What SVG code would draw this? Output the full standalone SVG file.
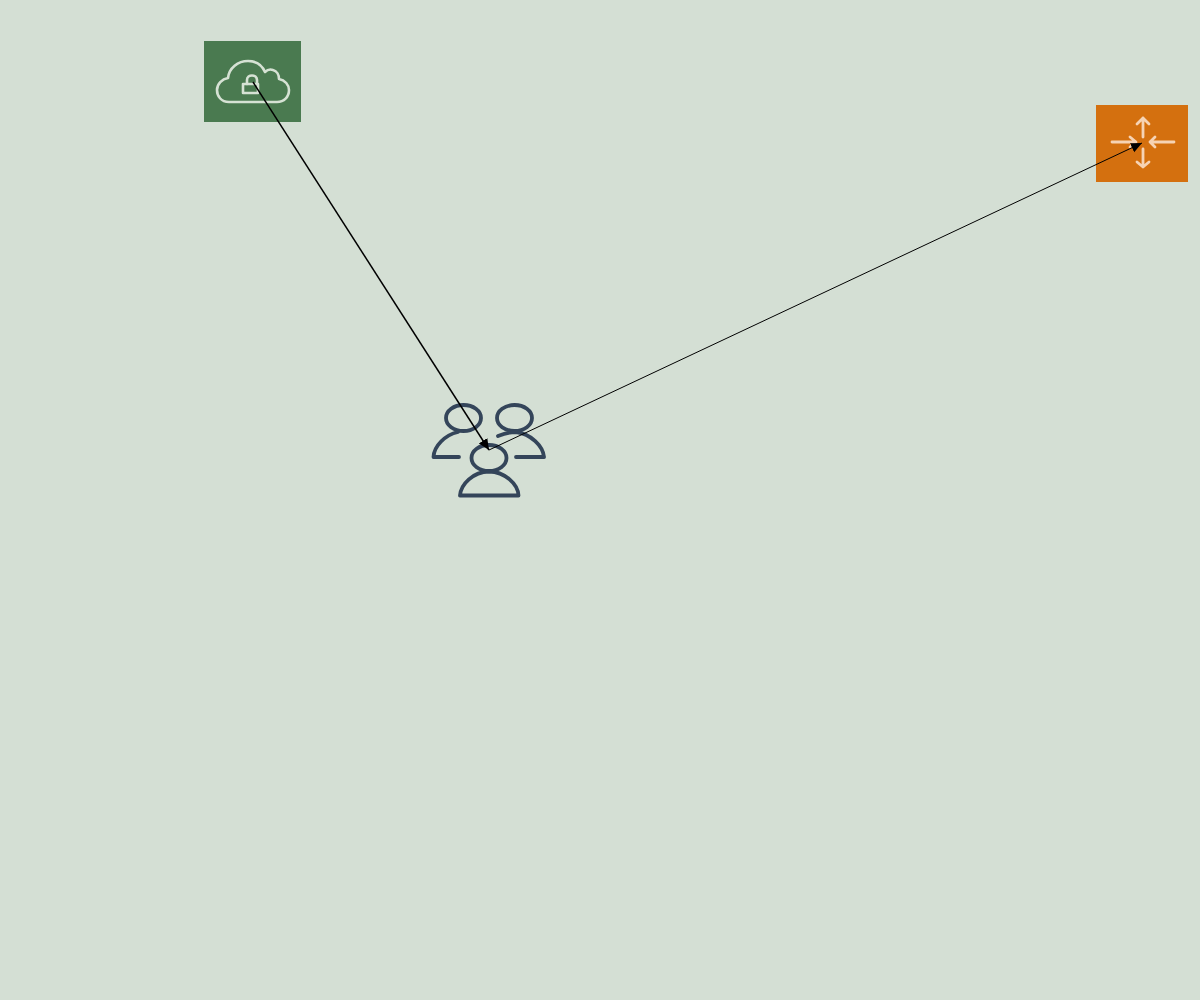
<svg xmlns="http://www.w3.org/2000/svg" width="1200" height="1000" viewBox="0 0 1200 1000">
<style>
.ln{fill:none;stroke-linecap:round;stroke-linejoin:round}
.w{stroke:#d6e2d4;stroke-width:2.600}
.o{stroke:#f6d3b4;stroke-width:2.800}
.u{stroke:#34455a;stroke-width:3.800}
.c{stroke:#000;fill:none}
</style>
<defs>
<marker id="a" markerUnits="userSpaceOnUse" markerWidth="13" markerHeight="11" refX="11" refY="5" orient="auto"><path d="M0 0L11 5L0 10z" fill="#000"/></marker>
</defs>
<rect width="1200" height="1000" fill="#d4dfd4"/>
<g id="vpn-gateway">
<rect x="204" y="41" width="97" height="81" fill="#4a7a50"/>
<path class="ln w" d="M229 102C221 102 217 96 217 90C217 84 222 79 228 78C229 68 238 61 248 61C256 61 262 65 265 72C267 70 270 69 273 70C277 71 279 75 279 79C285 80 289 85 289 90C289 97 284 102 277 102Z"/>
<rect class="ln w" x="243" y="84" width="15" height="9"/>
<path class="ln w" d="M247 84V80C247 74 257 74 257 80V84"/>
</g>
<g id="router">
<rect x="1096" y="105" width="92" height="77" fill="#d4700f"/>
<path class="ln o" d="M1143 118V137M1137 124L1143 118L1149 124"/>
<path class="ln o" d="M1143 149V167M1137 162L1143 167L1149 162"/>
<path class="ln o" d="M1112 142H1133M1130 137L1136 142L1130 147"/>
<path class="ln o" d="M1174 142H1150M1155 137L1150 142L1155 147"/>
</g>
<g id="users">
<ellipse class="ln u" cx="463.500" cy="418" rx="17.500" ry="13"/>
<path class="ln u" d="M459 457H433.500C434 446 445 435 458 432"/>
<ellipse class="ln u" cx="514.500" cy="418" rx="17.500" ry="13"/>
<path class="ln u" d="M498 436C503 434 510 432 516 432C531 434 543 446 544 457H516"/>
<ellipse class="ln u" cx="489" cy="458" rx="17.500" ry="13"/>
<path class="ln u" d="M460 495.500H518.500C518 484 505 472 489 471.500C473 472 461 484 460 495.500Z"/>
</g>
<g id="connectors">
<path class="c" stroke-width="1.500" d="M253 82L489 450" marker-end="url(#a)"/>
<path class="c" stroke-width="1" d="M489 450L1142 143" marker-end="url(#a)"/>
</g>
</svg>
